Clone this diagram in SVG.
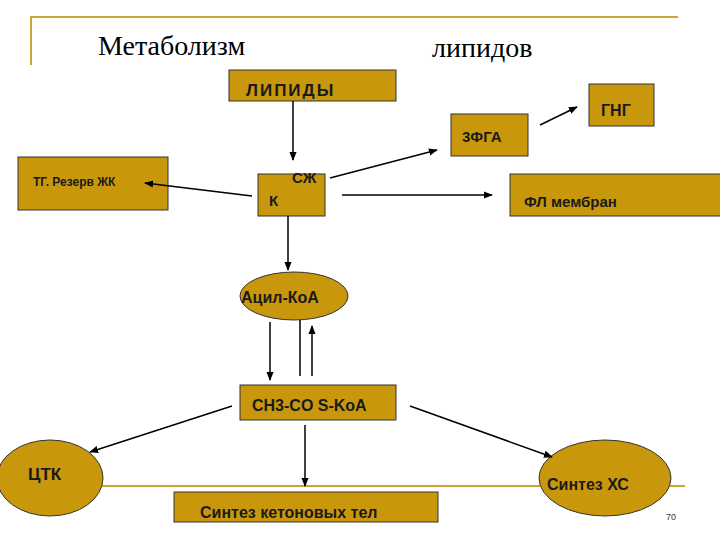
<svg xmlns="http://www.w3.org/2000/svg" width="720" height="540" viewBox="0 0 720 540">
<defs><marker id="a" viewBox="0 0 10 10" refX="9" refY="5" markerWidth="6" markerHeight="6" orient="auto"><path d="M0,1 L10,5 L0,9 z" fill="#000"/></marker></defs>
<style>
.n{fill:#C9970B;stroke:#333;stroke-width:1}
.t{font-family:"Liberation Sans",Arial,sans-serif;font-weight:bold;fill:#1a1a1a}
.c line{stroke:#000;stroke-width:1.5;marker-end:url(#a)}
</style>
<rect width="720" height="540" fill="#fff"/>
<line x1="30" y1="17" x2="678" y2="17" stroke="#C9A63A" stroke-width="2"/>
<line x1="31" y1="17" x2="31" y2="65" stroke="#C9A63A" stroke-width="2"/>
<line x1="100" y1="486" x2="685" y2="486" stroke="#C9A63A" stroke-width="2"/>
<text x="98" y="55" font-family="Liberation Serif,serif" font-size="28" fill="#000">Метаболизм</text>
<text x="432" y="57" font-family="Liberation Serif,serif" font-size="28" fill="#000">липидов</text>
<g id="lipidy"><rect class="n" x="229" y="70" width="167" height="31"/><text class="t" x="246" y="96" font-size="17" letter-spacing="2">ЛИПИДЫ</text></g>
<g id="gng"><rect class="n" x="589" y="84" width="65" height="42"/><text class="t" x="601" y="116" font-size="16">ГНГ</text></g>
<g id="fga"><rect class="n" x="451" y="114" width="77" height="42"/><text class="t" x="462" y="142" font-size="15">3ФГА</text></g>
<g id="tg"><rect class="n" x="18" y="157" width="150" height="53"/><text class="t" x="33" y="186" font-size="12">ТГ. Резерв ЖК</text></g>
<g id="k"><rect class="n" x="258" y="174" width="67" height="42"/><text class="t" x="292" y="183" font-size="15">СЖ</text><text class="t" x="269" y="206" font-size="15">К</text></g>
<g id="fl"><rect class="n" x="510" y="174" width="212" height="42"/><text class="t" x="524" y="207" font-size="15">ФЛ мембран</text></g>
<g id="acyl"><ellipse class="n" cx="294" cy="296" rx="54" ry="24"/><text class="t" x="241" y="303" font-size="16">Ацил-КоА</text></g>
<g id="ch3"><rect class="n" x="240" y="385" width="156" height="35"/><text class="t" x="252" y="411" font-size="16">CH3-CO S-KoA</text></g>
<g id="ctk"><ellipse class="n" cx="50" cy="478" rx="53" ry="38"/><text class="t" x="28" y="480" font-size="17">ЦТК</text></g>
<g id="xs"><ellipse class="n" cx="605" cy="478" rx="66" ry="38"/><text class="t" x="547" y="490" font-size="16">Синтез ХС</text></g>
<g id="keto"><rect class="n" x="174" y="492" width="264" height="30"/><text class="t" x="200" y="518" font-size="16">Синтез кетоновых тел</text></g>
<text x="666" y="520" font-family="Liberation Sans,sans-serif" font-size="9" fill="#333">70</text>
<g class="c">
<line x1="293" y1="101" x2="293" y2="160"/>
<line x1="252" y1="196" x2="145" y2="183"/>
<line x1="330" y1="178" x2="437" y2="150"/>
<line x1="540" y1="125" x2="577" y2="107"/>
<line x1="342" y1="195" x2="492" y2="195"/>
<line x1="288" y1="216" x2="288" y2="270"/>
<line x1="270" y1="322" x2="270" y2="380"/>
<line x1="312" y1="376" x2="312" y2="326"/>
<line x1="232" y1="406" x2="90" y2="452"/>
<line x1="410" y1="406" x2="552" y2="457"/>
<line x1="305" y1="425" x2="305" y2="486"/>
<line x1="300" y1="320" x2="300" y2="376" style="marker-end:none"/>
</g>
</svg>
